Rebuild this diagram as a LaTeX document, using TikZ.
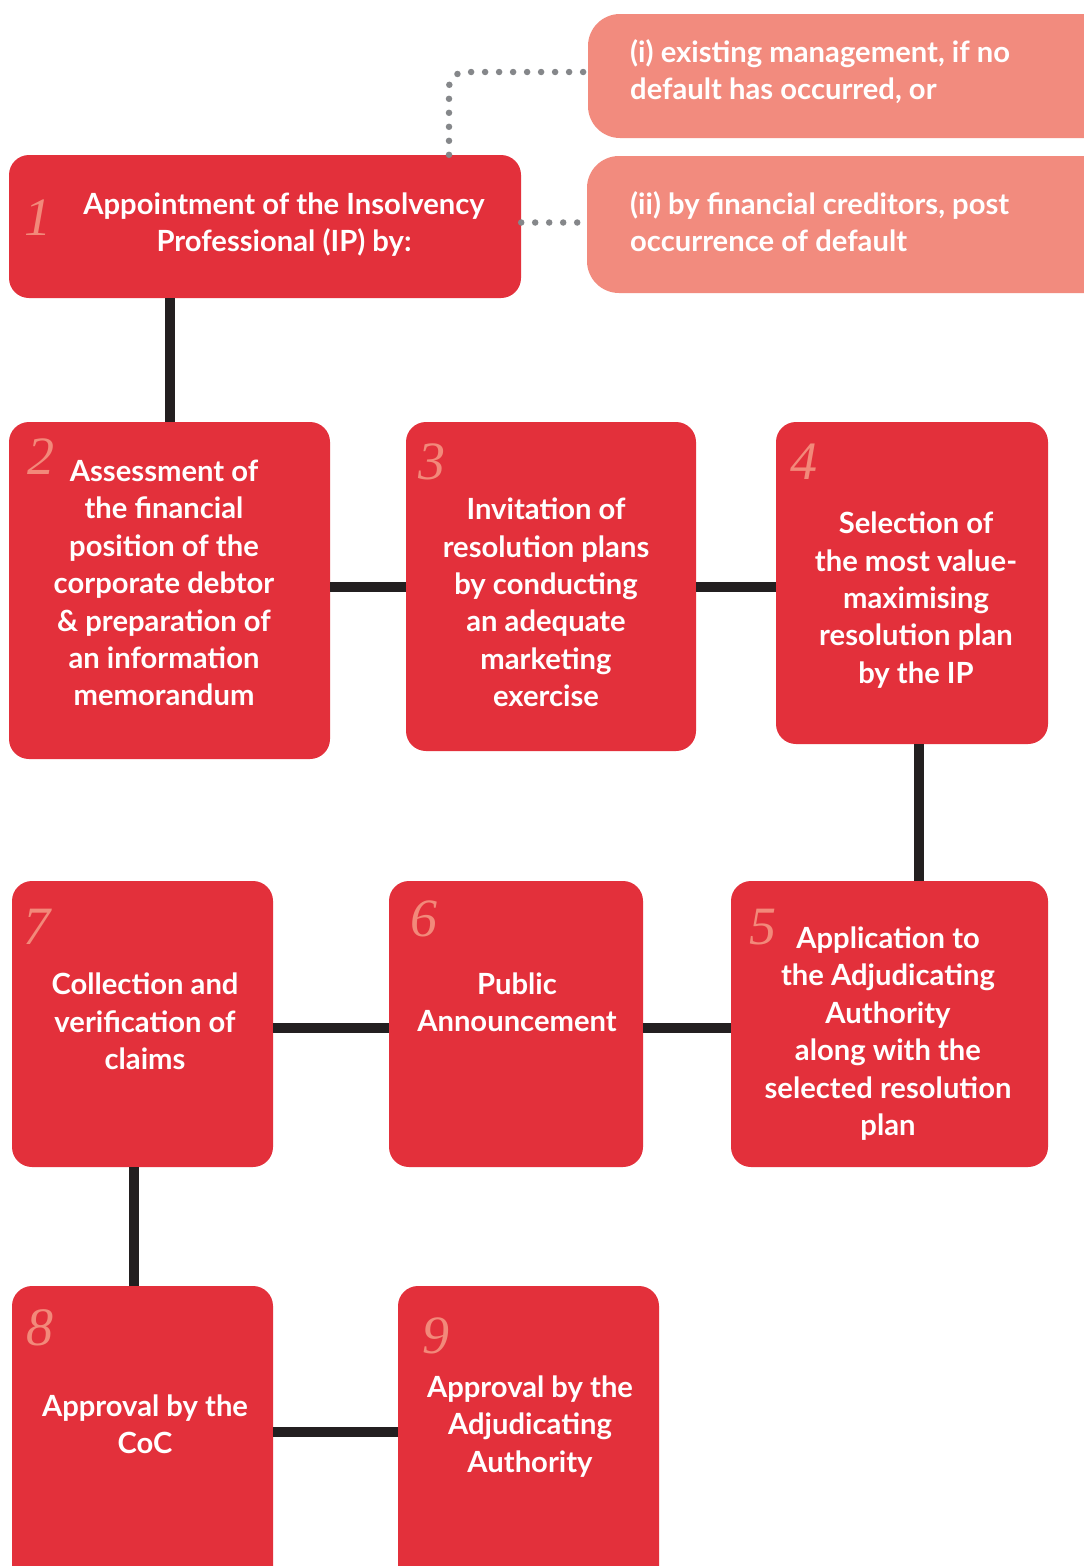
\documentclass[tikz,border=0pt]{standalone}
\usepackage{fontspec}
\setmainfont{Lato}
\newfontfamily\numfont{Liberation Serif}
\definecolor{boxred}{HTML}{E3303B}
\definecolor{salmon}{HTML}{F28B7E}
\definecolor{numcol}{HTML}{F2897A}
\definecolor{dotgray}{HTML}{85878A}
\definecolor{conncol}{HTML}{231F20}
\tikzset{
  box/.style={fill=boxred, draw=none, rounded corners=20pt, inner sep=0pt},
  optbox/.style={fill=salmon, draw=none, rounded corners=32pt, inner sep=0pt},
  label/.style={text=white, align=center, inner sep=0pt, font=\fontsize{29.2}{37.4}\selectfont\bfseries},
  optlabel/.style={text=white, align=left, anchor=west, inner sep=0pt, font=\fontsize{29.2}{37.4}\selectfont\bfseries},
  num/.style={text=numcol, inner sep=0pt, font=\fontsize{54}{54}\selectfont\numfont\itshape},
  conn/.style={draw=conncol, line width=10pt},
  dots/.style={draw=dotgray, line width=6.5pt, dash pattern=on 0pt off 14pt, line cap=round}
}
\begin{document}
\begin{tikzpicture}[x=1pt, y=-1pt]
\useasboundingbox (0,0) rectangle (1084,1566);
\clip (0,0) rectangle (1084,1566);
\fill[white] (0,0) rectangle (1084,1566);
% boxes
\node[box, minimum width=512pt, minimum height=143pt] (b1) at (265,226.5) {};
\node[optbox, minimum width=540pt, minimum height=124pt] (bi) at (858,76) {};
\node[optbox, minimum width=540pt, minimum height=137pt] (bii) at (857,224.5) {};
\node[box, minimum width=321pt, minimum height=337pt] (b2) at (169.5,590.5) {};
\node[box, minimum width=290pt, minimum height=329pt] (b3) at (551,586.5) {};
\node[box, minimum width=272pt, minimum height=322pt] (b4) at (912,583) {};
\node[box, minimum width=317pt, minimum height=286pt] (b5) at (889.5,1024) {};
\node[box, minimum width=254pt, minimum height=286pt] (b6) at (516,1024) {};
\node[box, minimum width=261pt, minimum height=286pt] (b7) at (142.5,1024) {};
\node[box, minimum width=261pt, minimum height=304pt] (b8) at (142.5,1438) {};
\node[box, minimum width=261pt, minimum height=304pt] (b9) at (528.5,1438) {};
% connectors
\draw[conn] (b1.south -| b2.north) -- (b2.north);
\draw[conn] (b3.west -| b2.east) -- (b3.west);
\draw[conn] (b3.east) -- (b3.east -| b4.west);
\draw[conn] ([xshift=7pt]b4.south) -- ([xshift=7pt]b4.south |- b5.north);
\draw[conn] ([yshift=-4pt]b6.east) -- ([yshift=-4pt]b5.west);
\draw[conn] ([yshift=-4pt]b7.east) -- ([yshift=-4pt]b6.west);
\draw[conn] ([xshift=-9pt]b7.south) -- ([xshift=-9pt]b7.south |- b8.north);
\draw[conn] ([yshift=6pt]b8.east) -- ([yshift=6pt]b8.east -| b9.west);
% dotted links
\draw[dots, rounded corners=16pt] ([xshift=184pt]b1.north) |- ([yshift=4pt]bi.west);
\draw[dots] ([yshift=4pt]b1.east) -- ([yshift=4pt]b1.east -| bii.west);
% texts
\node[label] (t1) at (284,224.5) {Appointment of the Insolvency\\Professional (IP) by:};
\node[optlabel] (ti) at (630,71.5) {(i) existing management, if no\\default has occurred, or};
\node[optlabel] (tii) at (630,221.5) {(ii) by financial creditors, post\\occurrence of default};
\node[label] (t2) at (164,583) {Assessment of\\the financial\\position of the\\corporate debtor\\\& preparation of\\an information\\memorandum};
\node[label] (t3) at (546,602.5) {Invitation of\\resolution plans\\by conducting\\an adequate\\marketing\\exercise};
\node[label] (t4) at (916,600) {Selection of\\the most value-\\maximising\\resolution plan\\by the IP};
\node[label] (t5) at (888,1033.5) {Application to\\the Adjudicating\\Authority\\along with the\\selected resolution\\plan};
\node[label] (t6) at (517,1002.5) {Public\\Announcement};
\node[label] (t7) at (145,1021.5) {Collection and\\verification of\\claims};
\node[label] (t8) at (145,1424.5) {Approval by the\\CoC};
\node[label] (t9) at (530,1426.5) {Approval by the\\Adjudicating\\Authority};
% numbers
\node[num] (n1) at (38,218) {1};
\node[num] (n2) at (41,457) {2};
\node[num] (n3) at (432,462) {3};
\node[num] (n4) at (804,462) {4};
\node[num] (n5) at (763,927) {5};
\node[num] (n6) at (424,919) {6};
\node[num] (n7) at (37,927) {7};
\node[num] (n8) at (40,1328) {8};
\node[num] (n9) at (436,1336) {9};
\end{tikzpicture}
\end{document}
